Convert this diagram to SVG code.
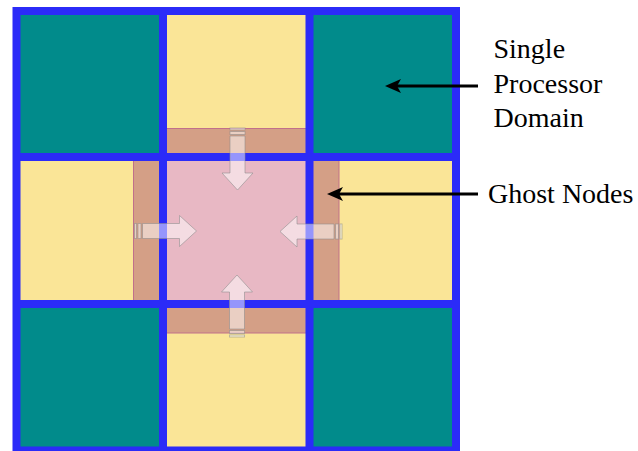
<svg xmlns="http://www.w3.org/2000/svg" width="638" height="451" viewBox="0 0 638 451">
  <style>
    .teal { fill: #018b8b; }
    .yellow { fill: #fae597; }
    .pink { fill: #e8b8c4; }
    .ghost { fill: #d49f86; stroke: #c0708a; stroke-width: 1; }
    .grid { stroke: #2b2bf8; stroke-width: 8; fill: none; }
    .xarrow { fill: #ffffff; fill-opacity: 0.5; stroke: #8a8a8a; stroke-opacity: 0.55; stroke-width: 1; }
    .label { font-family: 'Liberation Serif', 'DejaVu Serif', serif; font-size: 28px; fill: #000000; }
    .leader { stroke: #000000; stroke-width: 3; fill: none; }
  </style>
  <defs>
    <g id="xarrowShape">
      <rect class="xarrow" x="-7.5" y="0" width="15" height="2"/>
      <rect class="xarrow" x="-7.5" y="3.5" width="15" height="3"/>
      <path class="xarrow" d="M-7.5,8 L7.5,8 L7.5,45 L15.5,45 L0,62 L-15.5,45 L-7.5,45 Z"/>
    </g>
    <marker id="head" markerUnits="userSpaceOnUse" markerWidth="18" markerHeight="16" viewBox="0 -8 18 16" refX="6" refY="0" orient="auto">
      <path d="M16,0 L0,-7 L4,0 L0,7 Z" fill="#000000"/>
    </marker>
  </defs>
  <rect x="0" y="0" width="638" height="451" fill="#ffffff"/>

  <g id="cells">
    <g id="cell-tl"><rect class="teal" x="16.5" y="11" width="146.5" height="146"/></g>
    <g id="cell-tc"><rect class="yellow" x="163" y="11" width="146.5" height="146"/></g>
    <g id="cell-tr"><rect class="teal" x="309.5" y="11" width="146.5" height="146"/></g>
    <g id="cell-ml"><rect class="yellow" x="16.5" y="157" width="146.5" height="147"/></g>
    <g id="cell-center"><rect class="pink" x="163" y="157" width="146.5" height="147"/></g>
    <g id="cell-mr"><rect class="yellow" x="309.5" y="157" width="146.5" height="147"/></g>
    <g id="cell-bl"><rect class="teal" x="16.5" y="304" width="146.5" height="146"/></g>
    <g id="cell-bc"><rect class="yellow" x="163" y="304" width="146.5" height="146"/></g>
    <g id="cell-br"><rect class="teal" x="309.5" y="304" width="146.5" height="146"/></g>
  </g>

  <g id="ghost-nodes">
    <rect class="ghost" x="163" y="128.5" width="146.5" height="30"/>
    <rect class="ghost" x="133.5" y="157" width="31" height="147"/>
    <rect class="ghost" x="308" y="157" width="31" height="147"/>
    <rect class="ghost" x="163" y="303" width="146.5" height="30"/>
  </g>

  <g id="grid-lines">
    <path class="grid" d="M16.5,11 V455 M163,11 V455 M309.5,11 V455 M456,11 V455 M12.5,11 H460 M12.5,157 H460 M12.5,304 H460 M12.5,450.5 H460"/>
  </g>

  <g id="exchange-arrows">
    <use href="#xarrowShape" transform="translate(237.5,128)"/>
    <use href="#xarrowShape" transform="translate(237,337) rotate(180)"/>
    <use href="#xarrowShape" transform="translate(134.5,231) rotate(-90)"/>
    <use href="#xarrowShape" transform="translate(342,231.5) rotate(90)"/>
  </g>

  <g id="connectors">
    <line class="leader" x1="478" y1="86" x2="395" y2="86" marker-end="url(#head)"/>
    <line class="leader" x1="478" y1="194" x2="337" y2="194" marker-end="url(#head)"/>
  </g>

  <g id="label-single-processor">
    <text class="label" font-family="Liberation Serif, serif" x="493.5" y="58.3">Single</text>
    <text class="label" font-family="Liberation Serif, serif" x="493.5" y="93">Processor</text>
    <text class="label" font-family="Liberation Serif, serif" x="493.5" y="126.7">Domain</text>
  </g>
  <g id="label-ghost-nodes">
    <text class="label" font-family="Liberation Serif, serif" x="488" y="203.3">Ghost Nodes</text>
  </g>
</svg>
